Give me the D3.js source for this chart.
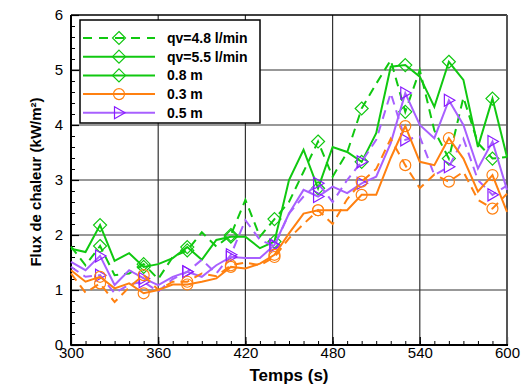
<!DOCTYPE html>
<html><head><meta charset="utf-8">
<script src="https://cdn.jsdelivr.net/npm/d3@7"></script>
<style>
html,body{margin:0;padding:0;background:#fff;}
svg{display:block;font-family:"Liberation Sans",Arial,sans-serif;}
</style></head>
<body>
<svg id="chart" width="521" height="386"></svg>
<script>
const times = [300,310,320,330,340,350,360,370,380,390,400,410,420,430,440,450,460,470,480,490,500,510,520,530,540,550,560,570,580,590,600];
const markerTimes = [320,350,380,410,440,470,500,530,560,590];

const green55 = [1.75,1.69,2.18,1.53,1.67,1.42,1.47,1.58,1.78,1.55,1.91,1.97,1.97,1.76,1.88,3.0,3.55,2.85,3.6,3.51,3.33,3.85,5.06,5.09,4.88,4.33,5.15,4.82,3.6,4.48,3.42];
const green48 = [1.79,1.45,1.8,1.27,1.3,1.47,1.2,1.6,1.72,2.05,1.79,2.0,2.64,1.97,2.29,2.6,3.15,3.7,3.06,3.5,4.3,4.75,5.18,4.24,5.0,3.9,3.39,4.5,3.67,3.39,3.42];
const orange55 = [1.36,1.15,1.24,1.03,1.12,0.94,1.0,1.1,1.1,1.15,1.21,1.42,1.39,1.48,1.64,2.03,2.39,2.45,2.45,2.45,2.73,2.73,3.4,3.98,3.33,3.27,3.76,3.39,2.79,3.09,2.42];
const orange48 = [1.3,0.95,1.12,0.78,1.05,1.27,1.0,1.15,1.15,1.3,1.25,1.45,1.5,1.45,1.6,1.94,2.2,2.45,2.2,2.65,2.97,3.2,3.75,3.27,2.85,3.1,2.97,3.15,2.64,2.48,2.75];
const purple55 = [1.51,1.36,1.62,1.09,1.36,1.21,1.09,1.24,1.33,1.24,1.45,1.6,1.58,1.58,1.82,2.39,2.82,2.7,2.88,2.76,2.94,3.06,3.67,4.58,4.0,3.76,4.45,4.0,3.21,3.7,2.82];
const purple48 = [1.42,1.24,1.27,0.94,1.1,1.15,0.97,1.2,1.33,1.55,1.3,1.64,2.27,1.91,1.8,2.39,2.7,2.94,2.6,3.0,3.33,3.73,4.58,3.73,3.79,3.09,3.24,3.75,3.0,2.73,2.9];

const xTicks = [300,360,420,480,540,600];
const yTicks = [0,1,2,3,4,5,6];
const legendLabels = ["qv=4.8 l/min","qv=5.5 l/min","0.8 m","0.3 m","0.5 m"];

const GREEN = "#10c810", ORANGE = "#ff8010", PURPLE = "#a860ff", PURPLE_M = "#8a1cff";

const series = [
  {values: green48, color: GREEN, mcolor: GREEN, dash: "9,6", marker: "diamond"},
  {values: green55, color: GREEN, mcolor: GREEN, dash: null, marker: "diamond"},
  {values: purple48, color: PURPLE, mcolor: PURPLE_M, dash: "9,6", marker: "triangle"},
  {values: purple55, color: PURPLE, mcolor: PURPLE_M, dash: null, marker: "triangle"},
  {values: orange48, color: ORANGE, mcolor: ORANGE, dash: "9,6", marker: "circle"},
  {values: orange55, color: ORANGE, mcolor: ORANGE, dash: null, marker: "circle"}
];
const legendItems = [
  {label: legendLabels[0], color: GREEN, mcolor: GREEN, dash: "9,7", marker: "diamond"},
  {label: legendLabels[1], color: GREEN, mcolor: GREEN, dash: null, marker: "diamond"},
  {label: legendLabels[2], color: GREEN, mcolor: GREEN, dash: null, marker: "diamond"},
  {label: legendLabels[3], color: ORANGE, mcolor: ORANGE, dash: null, marker: "circle"},
  {label: legendLabels[4], color: PURPLE, mcolor: PURPLE_M, dash: null, marker: "triangle"}
];

const svg = d3.select("#chart");
const L = 71, R = 507, T = 15, B = 345;
const x = d3.scaleLinear().domain([300,600]).range([L,R]);
const y = d3.scaleLinear().domain([0,6]).range([B,T]);

// grid
const grid = svg.append("g");
grid.selectAll("line.vx").data(xTicks.slice(1,-1)).join("line")
  .attr("x1", d=>x(d)).attr("x2", d=>x(d)).attr("y1", T).attr("y2", B)
  .attr("stroke", "#333").attr("stroke-width", 1.2);
grid.selectAll("line.hy").data(yTicks.slice(1,-1)).join("line")
  .attr("x1", L).attr("x2", R).attr("y1", d=>y(d)).attr("y2", d=>y(d))
  .attr("stroke", "#333").attr("stroke-width", 1.2);

// minor ticks
const xMinor = d3.range(300, 601, 10);
const yMinor = d3.range(0, 6.01, 0.2);
svg.append("g").attr("transform", `translate(0,${B})`)
  .call(d3.axisBottom(x).tickValues(xMinor).tickSize(-4).tickFormat(""))
  .call(g => g.select(".domain").remove())
  .selectAll("line").attr("stroke", "#000").attr("stroke-width", 1);
svg.append("g").attr("transform", `translate(${L},0)`)
  .call(d3.axisLeft(y).tickValues(yMinor).tickSize(-4).tickFormat(""))
  .call(g => g.select(".domain").remove())
  .selectAll("line").attr("stroke", "#000").attr("stroke-width", 1);

// major axes
const xAxis = svg.append("g").attr("transform", `translate(0,${B})`)
  .call(d3.axisBottom(x).tickValues(xTicks).tickSize(-8).tickPadding(2).tickFormat(d3.format("d")));
const yAxis = svg.append("g").attr("transform", `translate(${L},0)`)
  .call(d3.axisLeft(y).tickValues(yTicks).tickSize(-8).tickPadding(8).tickFormat(d3.format("d")));
[xAxis, yAxis].forEach(a => {
  a.select(".domain").remove();
  a.selectAll("line").attr("stroke", "#000").attr("stroke-width", 1.2);
  a.selectAll("text").attr("font-size", 15).attr("fill", "#000")
    .attr("font-family", "Liberation Sans, Arial, sans-serif");
});

// frame
svg.append("line").attr("x1", L).attr("x2", R).attr("y1", T).attr("y2", T).attr("stroke", "#000").attr("stroke-width", 1.5);
svg.append("line").attr("x1", R).attr("x2", R).attr("y1", T).attr("y2", B).attr("stroke", "#555").attr("stroke-width", 2);
svg.append("line").attr("x1", L).attr("x2", L).attr("y1", T).attr("y2", B+0.75).attr("stroke", "#000").attr("stroke-width", 2);
svg.append("line").attr("x1", L).attr("x2", R+1).attr("y1", B).attr("y2", B).attr("stroke", "#000").attr("stroke-width", 2);

// markers
function drawMarker(g, type, cx, cy, color) {
  if (type === "diamond") {
    g.append("path").attr("d", `M${cx},${cy-6.5}L${cx+6.5},${cy}L${cx},${cy+6.5}L${cx-6.5},${cy}Z`)
      .attr("fill", "none").attr("stroke", color).attr("stroke-width", 1.2);
  } else if (type === "circle") {
    g.append("circle").attr("cx", cx).attr("cy", cy).attr("r", 5.5)
      .attr("fill", "none").attr("stroke", color).attr("stroke-width", 1.2);
  } else {
    g.append("path").attr("d", `M${cx-4.5},${cy-6}L${cx+6},${cy}L${cx-4.5},${cy+6}Z`)
      .attr("fill", "none").attr("stroke", color).attr("stroke-width", 1.2);
  }
}

const line = d3.line().x(d=>x(d[0])).y(d=>y(d[1]));
const plot = svg.append("g");
series.forEach(s => {
  const pts = times.map((t,i)=>[t, s.values[i]]);
  plot.append("path").attr("d", line(pts)).attr("fill", "none")
    .attr("stroke", s.color).attr("stroke-width", 2)
    .attr("stroke-dasharray", s.dash).attr("stroke-linejoin", "miter");
  const mg = plot.append("g");
  markerTimes.forEach(t => {
    const i = times.indexOf(t);
    drawMarker(mg, s.marker, x(t), y(s.values[i]), s.mcolor);
  });
});

// legend
const lg = svg.append("g");
lg.append("rect").attr("x", 80).attr("y", 20).attr("width", 180).attr("height", 103)
  .attr("fill", "#fff").attr("stroke", "#000").attr("stroke-width", 1.5);
legendItems.forEach((it, i) => {
  const yy = 38 + i*18.7;
  lg.append("line").attr("x1", 83).attr("x2", 155).attr("y1", yy).attr("y2", yy)
    .attr("stroke", it.color).attr("stroke-width", 2).attr("stroke-dasharray", it.dash);
  drawMarker(lg, it.marker, 119, yy, it.mcolor);
  lg.append("text").attr("x", 167).attr("y", yy).attr("dy", "0.36em")
    .attr("font-size", 14).attr("font-weight", "bold").attr("fill", "#000").text(it.label);
});

// axis titles
svg.append("text").attr("transform", "translate(41,182) rotate(-90)")
  .attr("text-anchor", "middle").attr("font-size", 15).attr("font-weight", "bold")
  .text("Flux de chaleur (kW/m²)");
svg.append("text").attr("x", 289).attr("y", 381).attr("text-anchor", "middle")
  .attr("font-size", 17).attr("font-weight", "bold").text("Temps (s)");
</script>
</body></html>
